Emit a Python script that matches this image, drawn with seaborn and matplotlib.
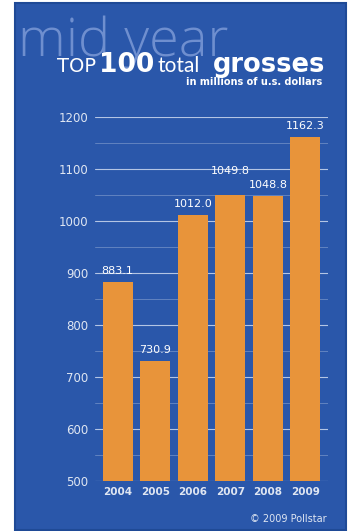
import matplotlib
matplotlib.use("Agg")
import matplotlib.pyplot as plt
import seaborn as sns
import pandas as pd
from matplotlib.patches import Rectangle

# data
years = ["2004", "2005", "2006", "2007", "2008", "2009"]
grosses = [883.1, 730.9, 1012.0, 1049.8, 1048.8, 1162.3]
y_ticks = [500, 600, 700, 800, 900, 1000, 1100, 1200]

BLUE = "#2a57aa"
ORANGE = "#e8943a"
LIGHT = "#dfe6f2"

df = pd.DataFrame({"year": years, "gross": grosses})

sns.set_theme(style="white")
plt.rcParams["font.family"] = ["DejaVu Sans"]

W, H = 354, 531
fig = plt.figure(figsize=(W / 100, H / 100), dpi=100)
fig.patch.set_facecolor("white")

# blue panel behind everything
fig.patches.append(Rectangle((15 / W, 1 - 530 / H), 331 / W, 527 / H,
                             transform=fig.transFigure, facecolor=BLUE,
                             edgecolor="#1f4a96", lw=1.5, zorder=-5))

ax = fig.add_axes([95 / W, 1 - 481 / H, 233 / W, 364 / H])
ax.set_facecolor("none")
ax.set_zorder(2)

sns.barplot(data=df, x="year", y="gross", color=ORANGE, saturation=1,
            width=0.8, ax=ax, zorder=3, linewidth=0, edgecolor="none")

ax.set_ylim(500, 1200)
ax.set_xlim(-0.6, 5.6)
ax.set_yticks(y_ticks)
for v in range(550, 1200, 100):
    ax.axhline(v, color="#8ea6d3", lw=0.7, alpha=0.55, zorder=1)
for v in y_ticks:
    ax.axhline(v, color="#b4c5e4", lw=0.8, zorder=1)

for s in ax.spines.values():
    s.set_visible(False)
ax.tick_params(axis="y", length=0, pad=5, labelsize=8.5, labelcolor=LIGHT)
ax.tick_params(axis="x", length=0, pad=4, labelsize=7.5, labelcolor=LIGHT)
for lbl in ax.get_xticklabels():
    lbl.set_fontweight("bold")
ax.set_xlabel("")
ax.set_ylabel("")

# value labels above the bars (2007 sits a bit higher in the original)
for i, v in enumerate(grosses):
    off = 14 if years[i] == "2007" else 4
    ax.annotate(f"{v:.1f}", (i, v), xytext=(0, off), textcoords="offset points",
                ha="center", va="bottom", color="white", fontsize=8)

# header
fig.text(18 / W, 1 - 56 / H, "mid year", family="Open Sans", fontweight="light",
         fontsize=39, color="#6f8fcf", va="baseline", zorder=1)
fig.text(57 / W, 1 - 72 / H, "TOP", fontsize=14, color="white", va="baseline", zorder=2)
fig.text(99 / W, 1 - 72 / H, "100", fontsize=19, color="white",
         fontweight="bold", va="baseline", zorder=2)
fig.text(157 / W, 1 - 72 / H, "total", fontsize=15, color="white",
         family="Lato", va="baseline", zorder=2)
fig.text(325 / W, 1 - 72 / H, "grosses", fontsize=18.5, color="white",
         fontweight="bold", ha="right", va="baseline", zorder=2)
fig.text(322 / W, 1 - 85 / H, "in millions of u.s. dollars", fontsize=7,
         color="white", fontweight="bold", ha="right", va="baseline", zorder=2)

fig.text(327 / W, 1 - 522 / H, "\u00a9 2009 Pollstar", fontsize=7,
         color=LIGHT, ha="right", va="baseline")

fig.savefig("out.png", dpi=100)
